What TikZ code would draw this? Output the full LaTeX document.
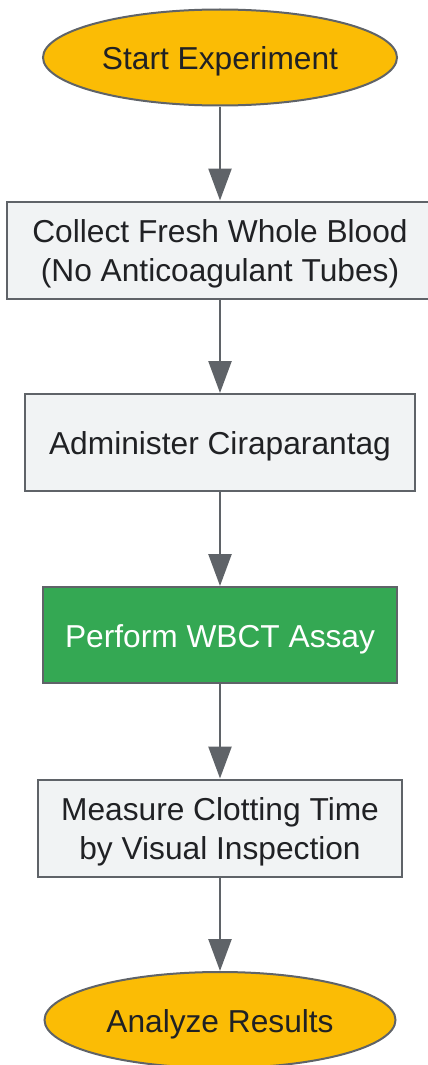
\documentclass[tikz,border=0pt]{standalone}
\usepackage{fontspec}
\setmainfont{Liberation Sans}
\usetikzlibrary{shapes.geometric,arrows.meta}
\definecolor{yel}{HTML}{FBBC05}
\definecolor{grn}{HTML}{34A853}
\definecolor{lgray}{HTML}{F1F3F4}
\definecolor{bord}{HTML}{5F6368}
\definecolor{txt}{HTML}{202124}
\tikzset{
  base/.style={draw=bord, line width=2pt, inner sep=0pt},
  term/.style={base, ellipse, fill=yel, minimum width=354pt, minimum height=96pt},
  proc/.style={base, rectangle, fill=lgray, minimum height=97pt},
  hl/.style={base, rectangle, fill=grn, minimum height=96pt},
  lbl/.style={inner sep=0pt, align=center, text=txt,
    font=\fontsize{31.7pt}{38.5pt}\selectfont, yshift=-4pt},
  flow/.style={draw=bord, line width=2.5pt, -{Triangle[length=32pt,width=23pt]}}
}
\begin{document}
\begin{tikzpicture}[x=1pt,y=-1pt]
\useasboundingbox (0,0) rectangle (428,1065);
\node[term] (start) at (220,57.5) {};
\node[proc, minimum width=426pt] (collect) at (220,250) {};
\node[proc, minimum width=390pt] (admin) at (220,442.5) {};
\node[hl, minimum width=354pt] (wbct) at (220,635) {};
\node[proc, minimum width=364pt] (measure) at (220,828) {};
\node[term, minimum width=351pt] (analyze) at (220,1020) {};
\node[lbl] (startT) at (start.center) {Start Experiment};
\node[lbl] (collectT) at (collect.center) {Collect Fresh Whole Blood\\(No Anticoagulant Tubes)};
\node[lbl] (adminT) at (admin.center) {Administer Ciraparantag};
\node[lbl, text=white] (wbctT) at (wbct.center) {Perform WBCT Assay};
\node[lbl] (measureT) at (measure.center) {Measure Clotting Time\\by Visual Inspection};
\node[lbl] (analyzeT) at (analyze.center) {Analyze Results};
\draw[flow] (start.south) -- (collect.north);
\draw[flow] (collect.south) -- (admin.north);
\draw[flow] (admin.south) -- (wbct.north);
\draw[flow] (wbct.south) -- (measure.north);
\draw[flow] (measure.south) -- (analyze.north);
\end{tikzpicture}
\end{document}
